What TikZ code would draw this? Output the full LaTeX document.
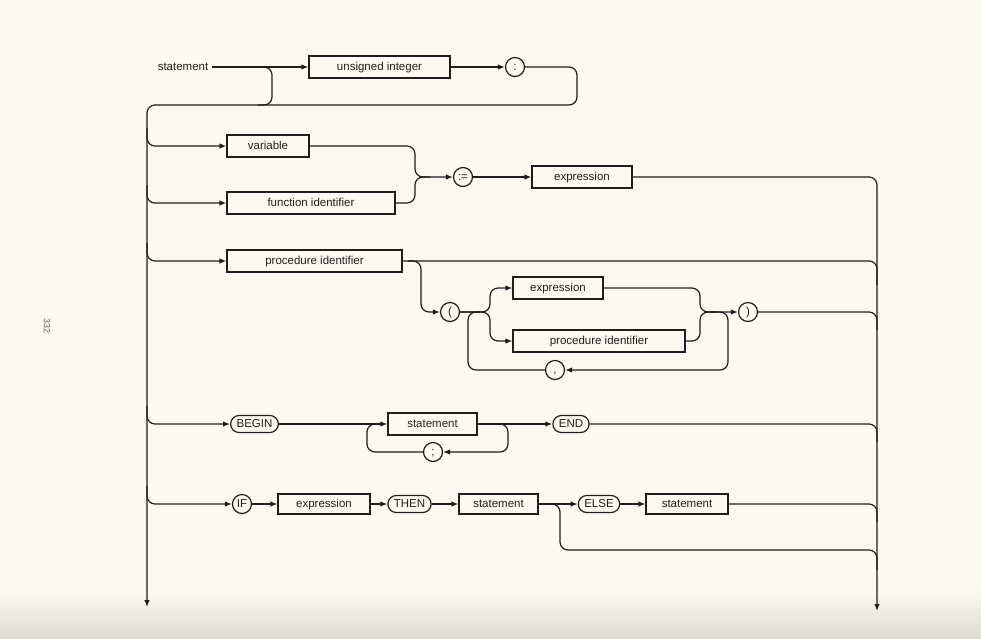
\documentclass[tikz,border=0pt]{standalone}
\usepackage{fontspec}
\setmainfont{Liberation Sans}
\usetikzlibrary{arrows.meta}
\definecolor{paper}{RGB}{252,250,240}
\definecolor{paperedge}{RGB}{222,220,210}
\definecolor{ink}{RGB}{30,30,30}
\tikzset{
	nt/.style={draw, rectangle, minimum height=22pt, inner sep=0pt, text height=7.5pt, text depth=0pt},
	tm/.style={draw, circle, minimum size=19pt, inner sep=0pt, text height=7.5pt, text depth=0pt},
	kw/.style={draw, rectangle, rounded corners=8.5pt, minimum height=17pt, inner xsep=6pt, inner ysep=0pt, text height=7.5pt, text depth=0pt},
	rc/.style={rounded corners=8pt},
	>={Latex[length=7pt,width=5.5pt]}
}
\begin{document}
\begin{tikzpicture}[x=1pt, y=-1pt, line width=1.2pt, color=ink, font=\fontsize{11.5}{13}\selectfont]
	% page
	\fill[paper] (0,0) rectangle (981,638);
	\shade[top color=paper, bottom color=paperedge] (0,590) rectangle (981,638);
	\useasboundingbox (0,0) rectangle (981,638);
	\node[rotate=-90, text=black!60, font=\fontsize{9}{10}\selectfont] (pageno) at (47,326) {332};

	% label part
	\node (lbl) at (183,67) {statement};
	\node[nt, minimum width=141pt] (ui) at (379.5,67) {unsigned integer};
	\node[tm] (colon) at (515,67) {:};
	\draw[->] (lbl.east) -- (ui.west);
	\draw[->] (ui.east) -- (colon.west);
	\draw[rc] (258,67) -- (272,67) -- (272,105) -- (258,105);
	\coordinate (lrail) at (147,607);
	\coordinate (rrail) at (877,611);
	\draw[->, rc] (colon.east) -| (577,105) -- (147,105) -- (lrail);

	% assignment
	\node[nt, minimum width=82pt] (var) at (268,146) {variable};
	\node[nt, minimum width=168pt] (fid) at (311,203) {function identifier};
	\node[tm] (assign) at (463,177) {:=};
	\node[nt, minimum width=100pt] (expr) at (582,177) {expression};
	\draw[->, rc] (147,128) |- (var.west);
	\draw[->, rc] (147,185) |- (fid.west);
	\draw[->, rc] (var.east) -| (415,177) -- (assign.west);
	\draw[rc] (fid.east) -| (415,177) -- (430,177);
	\draw[->] (assign.east) -- (expr.west);
	\draw[->, rc] (expr.east) -| (rrail);

	% procedure call
	\node[nt, minimum width=175pt] (pid) at (314.5,261) {procedure identifier};
	\node[tm] (lpar) at (450,312) {(};
	\node[nt, minimum width=90pt] (aexpr) at (558,288) {expression};
	\node[nt, minimum width=172pt] (apid) at (599,341) {procedure identifier};
	\node[tm] (rpar) at (748,312) {)};
	\node[tm] (comma) at (555,370) {,};
	\draw[->, rc] (147,243) |- (pid.west);
	\draw[rc] (pid.east) -| (877,285);
	\draw[->, rc] (408,261) -- (421,261) -- (421,312) -- (lpar.west);
	\draw[->, rc] (lpar.east) -- (490,312) |- (aexpr.west);
	\draw[->, rc] (lpar.east) -- (490,312) |- (apid.west);
	\draw[->, rc] (aexpr.east) -| (700,312) -- (rpar.west);
	\draw[rc] (apid.east) -| (700,312) -- (715,312);
	\draw[->, rc] (710,312) -| (728,370) -- (comma.east);
	\draw[rc] (comma.west) -| (468,312) -- (480,312);
	\draw[rc] (rpar.east) -| (877,330);

	% compound statement
	\node[kw] (begin) at (254.5,424) {BEGIN};
	\node[nt, minimum width=89pt] (body) at (432.5,424) {statement};
	\node[tm] (semi) at (433,452) {;};
	\node[kw] (end) at (571,424) {END};
	\draw[->, rc] (147,406) |- (begin.west);
	\draw[->] (begin.east) -- (body.west);
	\draw[->, rc] (body.east) -| (508,452) -- (semi.east);
	\draw[rc] (semi.west) -| (367,424) -- (380,424);
	\draw[->] (body.east) -- (end.west);
	\draw[rc] (end.east) -| (877,442);

	% conditional
	\node[tm] (if) at (242,504) {IF};
	\node[nt, minimum width=92pt, minimum height=20pt] (cond) at (324,504) {expression};
	\node[kw] (then) at (409.5,504) {THEN};
	\node[nt, minimum width=79pt, minimum height=20pt] (thenst) at (498.5,504) {statement};
	\node[kw] (else) at (599,504) {ELSE};
	\node[nt, minimum width=82pt, minimum height=20pt] (elsest) at (687,504) {statement};
	\draw[->, rc] (147,486) |- (if.west);
	\draw[->] (if.east) -- (cond.west);
	\draw[->] (cond.east) -- (then.west);
	\draw[->] (then.east) -- (thenst.west);
	\draw[->] (thenst.east) -- (else.west);
	\draw[->] (else.east) -- (elsest.west);
	\draw[rc] (elsest.east) -| (877,522);
	\draw[rc] (548,504) -- (560,504) -- (560,550) -| (877,570);
\end{tikzpicture}
\end{document}
